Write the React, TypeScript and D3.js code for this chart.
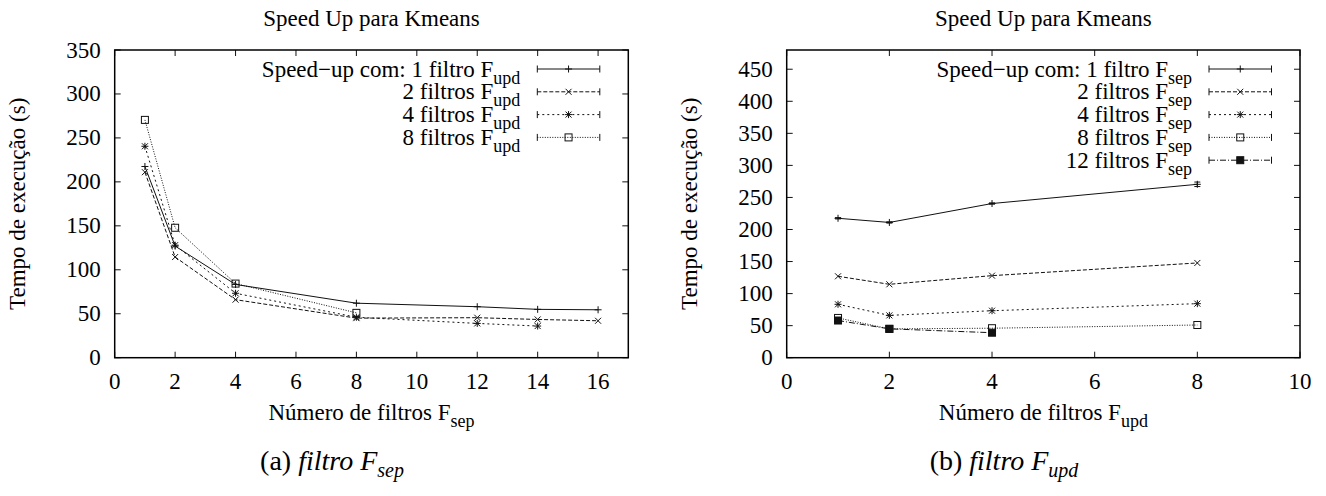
import React from 'react';
import * as d3 from 'd3';

// ---------- data ----------
// Chart (a): x = number of F_sep filters, one series per number of F_upd filters
const sepCounts = [1, 2, 4, 8, 12, 14, 16];
const aUpd1 = [217.5, 127, 83.3, 62, 58, 55, 54.5];
const aUpd2 = [211, 114.5, 66, 45, 45.5, 43.5, 42];
const aUpd4 = [240.5, 128, 73.3, 46, 39, 36];
const aUpd8 = [270.5, 147.8, 84.3, 51];
const aLabels = ['Speed\u2212up com: 1 filtro F', '2 filtros F', '4 filtros F', '8 filtros F'];

// Chart (b): x = number of F_upd filters, one series per number of F_sep filters
const updCounts = [1, 2, 4, 8];
const bSep1 = [217.5, 211, 240.5, 270.5];
const bSep1Err = [1, 1, 1, 3.5];
const bSep2 = [127, 114.5, 128, 147.8];
const bSep4 = [83.3, 66, 73.3, 84.3];
const bSep8 = [62, 45, 46, 51];
const bSep12 = [58, 45, 39];
const bLabels = ['Speed\u2212up com: 1 filtro F', '2 filtros F', '4 filtros F', '8 filtros F', '12 filtros F'];

const aXTicks = [0, 2, 4, 6, 8, 10, 12, 14, 16];
const aYTicks = [0, 50, 100, 150, 200, 250, 300, 350];
const bXTicks = [0, 2, 4, 6, 8, 10];
const bYTicks = [0, 50, 100, 150, 200, 250, 300, 350, 400, 450];

const titleText = 'Speed Up para Kmeans';
const yLabelText = 'Tempo de execução (s)';
const xLabelText = 'Número de filtros F';

// ---------- styles ----------
const FONT = "'Liberation Serif', 'Times New Roman', 'DejaVu Serif', serif";
const FS = 23;
const SUBFS = 18;
const INK = '#111';
const dashes = [null, '4,2', '2,3', '1,1.5', '6,2,1,2'];
const markers = ['plus', 'cross', 'star', 'box', 'fbox'];
const tStyle = { fontFamily: FONT };

type Series = { xs: number[]; ys: number[]; errs?: number[] };

function Marker({ kind, x, y }: { kind: string; x: number; y: number }) {
  const r = 3.5;
  const c = 3;
  const parts: any[] = [];
  if (kind === 'plus' || kind === 'star') {
    parts.push(<line key="h" x1={x - r} x2={x + r} y1={y} y2={y} />);
    parts.push(<line key="v" x1={x} x2={x} y1={y - r} y2={y + r} />);
  }
  if (kind === 'cross' || kind === 'star') {
    parts.push(<line key="d1" x1={x - c} x2={x + c} y1={y - c} y2={y + c} />);
    parts.push(<line key="d2" x1={x - c} x2={x + c} y1={y + c} y2={y - c} />);
  }
  if (kind === 'box') parts.push(<rect key="b" x={x - r} y={y - r} width={2 * r} height={2 * r} fill="none" />);
  if (kind === 'fbox') parts.push(<rect key="b" x={x - r} y={y - r} width={2 * r} height={2 * r} fill={INK} />);
  return <g stroke={INK} strokeWidth={1}>{parts}</g>;
}

function Panel(props: {
  left: number; right: number; top: number; bottom: number;
  xMax: number; yMax: number; xTicks: number[]; yTicks: number[];
  series: Series[]; labels: string[]; legendSub: string; axisSub: string;
  ylabelX: number; caption: string; captionSub: string; captionX: number;
}) {
  const { left, right, top, bottom } = props;
  const x = d3.scaleLinear().domain([0, props.xMax]).range([left, right]);
  const y = d3.scaleLinear().domain([0, props.yMax]).range([bottom, top]);
  const line = d3.line<[number, number]>().x(d => x(d[0])).y(d => y(d[1]));
  const tl = 6;
  const cx = (left + right) / 2;
  const legX2 = right - 28.5;
  const legX1 = right - 91;
  const legTextX = right - 108;
  return (
    <g fill="#000" style={tStyle}>
      <text x={cx} y={26} fontSize={FS} textAnchor="middle" style={tStyle}>{titleText}</text>
      {/* ticks */}
      <g stroke={INK} strokeWidth={1}>
        {props.xTicks.map(t => (
          <g key={'x' + t}>
            <line x1={x(t)} x2={x(t)} y1={bottom} y2={bottom - tl} />
            <line x1={x(t)} x2={x(t)} y1={top} y2={top + tl} />
          </g>
        ))}
        {props.yTicks.map(t => (
          <g key={'y' + t}>
            <line x1={left} x2={left + tl} y1={y(t)} y2={y(t)} />
            <line x1={right} x2={right - tl} y1={y(t)} y2={y(t)} />
          </g>
        ))}
      </g>
      {props.xTicks.map(t => (
        <text key={'xl' + t} x={x(t)} y={389} fontSize={FS} textAnchor="middle" style={tStyle}>{t}</text>
      ))}
      {props.yTicks.map(t => (
        <text key={'yl' + t} x={left - 14} y={y(t) + 7.5} fontSize={FS} textAnchor="end" style={tStyle}>{t}</text>
      ))}
      {/* series */}
      {props.series.map((s, i) => {
        const pts = s.xs.slice(0, s.ys.length).map((xv, j) => [xv, s.ys[j]] as [number, number]);
        return (
          <g key={'s' + i}>
            <path d={line(pts) || ''} fill="none" stroke={INK} strokeWidth={1}
              strokeDasharray={dashes[i] || undefined} />
            {s.errs && pts.map((p, j) => (
              <g key={'e' + j} stroke={INK} strokeWidth={1}>
                <line x1={x(p[0])} x2={x(p[0])} y1={y(p[1] - s.errs![j])} y2={y(p[1] + s.errs![j])} />
                <line x1={x(p[0]) - 3} x2={x(p[0]) + 3} y1={y(p[1] - s.errs![j])} y2={y(p[1] - s.errs![j])} />
                <line x1={x(p[0]) - 3} x2={x(p[0]) + 3} y1={y(p[1] + s.errs![j])} y2={y(p[1] + s.errs![j])} />
              </g>
            ))}
            {pts.map((p, j) => <Marker key={'m' + j} kind={markers[i]} x={x(p[0])} y={y(p[1])} />)}
          </g>
        );
      })}
      {/* legend */}
      {props.labels.map((lab, i) => {
        const ry = 69 + 22.8 * i;
        return (
          <g key={'lg' + i}>
            <text x={legTextX} y={ry + 7.5} fontSize={FS} textAnchor="end" style={tStyle}>
              {lab}<tspan dy={7} fontSize={SUBFS}>{props.legendSub}</tspan>
            </text>
            <g stroke={INK} strokeWidth={1}>
              <line x1={legX1} x2={legX2} y1={ry} y2={ry} strokeDasharray={dashes[i] || undefined} />
              <line x1={legX1} x2={legX1} y1={ry - 3.5} y2={ry + 3.5} />
              <line x1={legX2} x2={legX2} y1={ry - 3.5} y2={ry + 3.5} />
            </g>
            <Marker kind={markers[i]} x={(legX1 + legX2) / 2} y={ry} />
          </g>
        );
      })}
      {/* frame */}
      <rect x={left} y={top} width={right - left} height={bottom - top} fill="none" stroke="#000" strokeWidth={1.5} />
      {/* axis labels */}
      <text x={cx} y={420} fontSize={FS} textAnchor="middle" style={tStyle}>
        {xLabelText}<tspan dy={7} fontSize={SUBFS}>{props.axisSub}</tspan>
      </text>
      <text transform={`translate(${props.ylabelX},${(top + bottom) / 2}) rotate(-90)`} fontSize={FS}
        textAnchor="middle" style={tStyle}>
        {yLabelText}
      </text>
      {/* caption */}
      <text x={props.captionX} y={470} fontSize={28} textAnchor="middle" style={tStyle}>
        {`(${props.caption}) `}<tspan fontStyle="italic">filtro F</tspan>
        <tspan fontStyle="italic" dy={7} fontSize={20}>{props.captionSub}</tspan>
      </text>
    </g>
  );
}

export default function App() {
  const aSeries: Series[] = [
    { xs: sepCounts, ys: aUpd1 },
    { xs: sepCounts, ys: aUpd2 },
    { xs: sepCounts, ys: aUpd4 },
    { xs: sepCounts, ys: aUpd8 },
  ];
  const bSeries: Series[] = [
    { xs: updCounts, ys: bSep1, errs: bSep1Err },
    { xs: updCounts, ys: bSep2 },
    { xs: updCounts, ys: bSep4 },
    { xs: updCounts, ys: bSep8 },
    { xs: updCounts, ys: bSep12 },
  ];
  return (
    <svg width={1326} height={496} style={{ position: 'absolute', left: 0, top: 0, background: '#fff', fontFamily: FONT }}>
      <rect width={1326} height={496} fill="#fff" />
      <Panel left={114.7} right={628.3} top={50} bottom={357.7} xMax={17} yMax={350}
        xTicks={aXTicks} yTicks={aYTicks} series={aSeries} labels={aLabels}
        legendSub="upd" axisSub="sep" ylabelX={25} caption="a" captionSub="sep" captionX={332} />
      <Panel left={786.7} right={1300} top={50} bottom={357.7} xMax={10} yMax={480}
        xTicks={bXTicks} yTicks={bYTicks} series={bSeries} labels={bLabels}
        legendSub="sep" axisSub="upd" ylabelX={697} caption="b" captionSub="upd" captionX={1004} />
    </svg>
  );
}
